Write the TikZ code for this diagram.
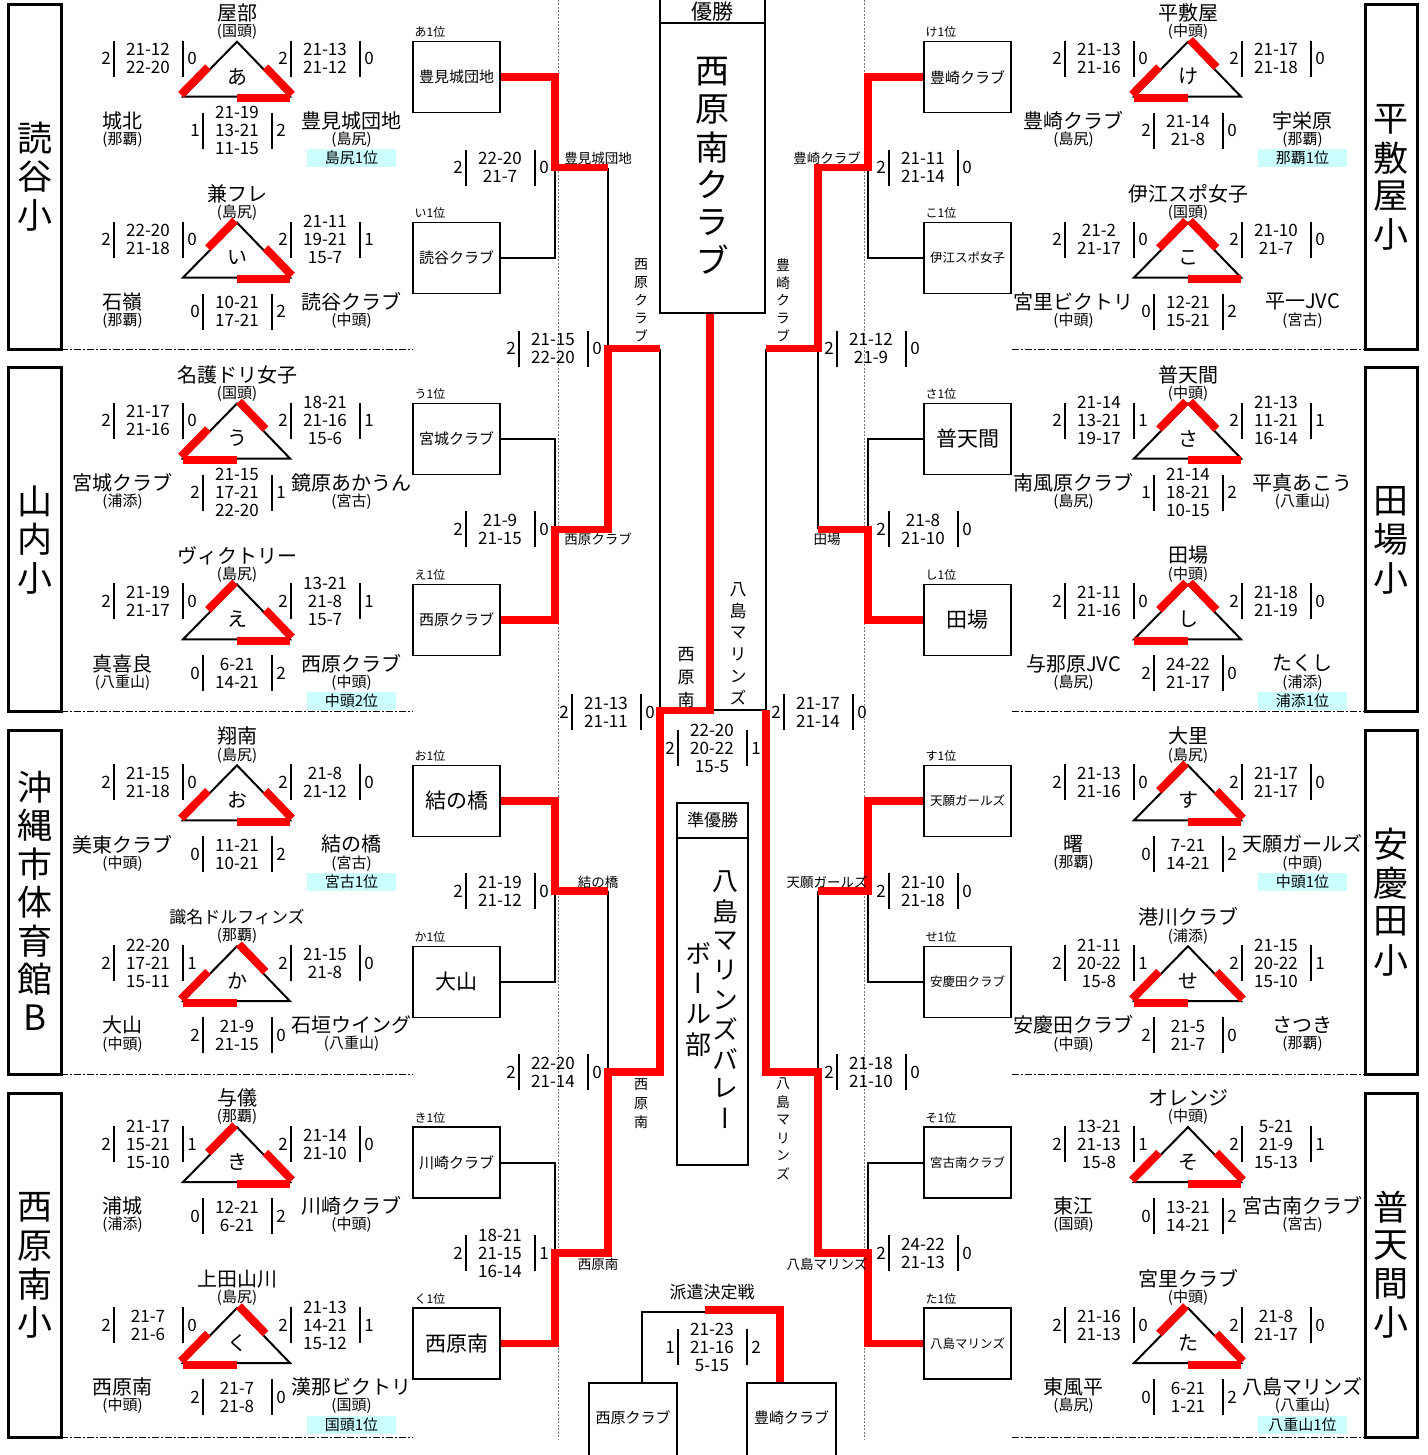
\documentclass[tikz,border=0pt]{standalone}
\usepackage{fontspec}
\setmainfont{Noto Sans CJK JP}
\newfontfamily\vjp[RawFeature=+vert]{Noto Sans CJK JP}
\usetikzlibrary{calc}
\definecolor{winred}{RGB}{255,0,0}
\definecolor{lblcyan}{RGB}{204,255,255}
\definecolor{guidegray}{RGB}{120,120,120}
\newcommand\fsz[1]{\fontsize{#1}{#1}\selectfont}
\tikzset{
  nm/.style={font=\fsz{20}, inner sep=0pt},
  ar/.style={font=\fsz{15}, inner sep=0pt},
  kana/.style={font=\fsz{20}, inner sep=0pt},
  scr/.style={font=\fontsize{17}{18}\selectfont, align=center, inner sep=0pt},
  num/.style={font=\fsz{17}, inner sep=0pt},
  sbar/.style={line width=1.2pt},
  tristy/.style={line width=2pt, line join=miter},
  redseg/.style={line width=8pt, draw=winred},
  redpath/.style={line width=7.5pt, draw=winred, line join=miter},
  losepath/.style={line width=2pt},
  bracketbox/.style={draw, line width=1.4pt, minimum width=87pt, minimum height=71pt, inner sep=0pt},
  sidebox/.style={line width=3pt},
  poslbl/.style={font=\fsz{12}, inner sep=0pt, anchor=base west},
  cyanlbl/.style={fill=lblcyan, minimum width=89pt, minimum height=18pt, inner sep=0pt, font=\fsz{15}},
  wlbl/.style={font=\fsz{13.5}, inner sep=0pt},
  divider/.style={line width=1pt, dash pattern=on 7pt off 2pt on 2pt off 2pt},
  guide/.style={line width=0.8pt, draw=guidegray, dash pattern=on 2pt off 1.5pt},
  framebox/.style={draw, line width=2pt, inner sep=0pt},
}
% score block: name, sx, sy, left number, right number, lines
\newcommand\sbk[6]{%
  \node[scr] (#1) at ({#2},{#3}) {#6};
  \node[num] (#1l) at ({#2-42},{#3}) {#4};
  \node[num] (#1r) at ({#2+44},{#3}) {#5};
  \draw[sbar] ({#2-34},{#3-18}) -- ({#2-34},{#3+18});
  \draw[sbar] ({#2+35},{#3-18}) -- ({#2+35},{#3+18});
}
% pool triangle: id, ax, ay, kana, top name, top area, left red (A/L), right red (A/R), base red (L/R)
\newcommand\pool[9]{%
  \coordinate (#1A) at ({#2},{#3});
  \coordinate (#1L) at ({#2-54},{#3+55});
  \coordinate (#1R) at ({#2+53},{#3+55});
  \coordinate (#1ml) at ({#2-27},{#3+27.5});
  \coordinate (#1mr) at ({#2+26.5},{#3+27.5});
  \coordinate (#1mb) at ({#2-0.5},{#3+55});
  \draw[tristy] (#1A) -- (#1L) -- (#1R) -- cycle;
  \draw[redseg] ($(#1#7)+(-2,-2)$) -- ($(#1ml)+(-2,-2)$);
  \draw[redseg] ($(#1#8)+(2,-2)$) -- ($(#1mr)+(2,-2)$);
  \draw[redseg] ($(#1#9)+(0,1.5)$) -- ($(#1mb)+(0,1.5)$);
  \node[kana] (#1k) at ({#2},{#3+35}) {#4};
  \node[nm] (#1t) at ({#2},{#3-29}) {#5};
  \node[ar] (#1ta) at ({#2},{#3-10}) {#6};
}
\newcommand\poolsc[9]{%
  \sbk{#1ul}{#2-89}{#3+17}{#4}{#6}{#5}
  \sbk{#1ur}{#2+88}{#3+17}{#7}{#9}{#8}
}
\newcommand\poolbt[6]{\sbk{#1bt}{#2}{#3+89}{#4}{#6}{#5}}
\newcommand\poolnm[7]{%
  \node[nm] (#1bl) at ({#2-114.5},{#3+79}) {#4};
  \node[ar] (#1bla) at ({#2-114.5},{#3+98}) {#5};
  \node[nm] (#1br) at ({#2+114.5},{#3+79}) {#6};
  \node[ar] (#1bra) at ({#2+114.5},{#3+98}) {#7};
}
\newcommand\poolcy[4]{\node[cyanlbl] (#1cy) at ({#2+114.5},{#3+116.5}) {#4};}
% bracket box: id, cx, ay, font size, label, text
\newcommand\bbox[6]{%
  \node[bracketbox, font=\fsz{#4}] (#1) at ({#2},{#3+35.5}) {#6};
  \node[poslbl] (#1p) at ({#2-42},{#3-5}) {#5};
}
% vertical stack of characters: id, x, y0, dy, font, list
\newcommand\vstack[6]{%
  \foreach \c [count=\i from 0] in {#6} {\node[font=#5, inner sep=0pt] (#1\i) at ({#2},{#3+\i*#4}) {\c};}
}
\begin{document}
\begin{tikzpicture}[x=1pt,y=-1pt]
\useasboundingbox (0,0) rectangle (1427,1455);
% guides
\draw[guide] (558,0) -- (558,1440);
\draw[guide] (864,0) -- (864,1440);
% side boxes and dividers
\foreach \k in {0,1,2,3} {
  \draw[sidebox] (8,{5+362.7*\k}) rectangle (61,{349+362.7*\k});
  \draw[sidebox] (1365,{5+362.7*\k}) rectangle (1417,{349+362.7*\k});
  \draw[divider] (61,{349+362.7*\k}) -- (413,{349+362.7*\k});
  \draw[divider] (1012,{349+362.7*\k}) -- (1365,{349+362.7*\k});
}
\vstack{sla}{34.5}{138.5}{38.5}{\fsz{35}}{読,谷,小}
\vstack{slb}{34.5}{501.2}{38.5}{\fsz{35}}{山,内,小}
\vstack{slc}{34.5}{786.9}{38.5}{\fsz{35}}{沖,縄,市,体,育,館,B}
\vstack{sld}{34.5}{1207.4}{38.5}{\fsz{35}}{西,原,南,小}
\vstack{sra}{1391}{119.3}{38.5}{\fsz{35}}{平,敷,屋,小}
\vstack{srb}{1391}{501.2}{38.5}{\fsz{35}}{田,場,小}
\vstack{src}{1391}{844.7}{38.5}{\fsz{35}}{安,慶,田,小}
\vstack{srd}{1391}{1207.4}{38.5}{\fsz{35}}{普,天,間,小}

% champion
\node[framebox, minimum width=105pt, minimum height=35pt] (champtop) at (712.5,5.5) {};
\node[font=\fsz{21}, inner sep=0pt] (champlbl) at (712.5,11.5) {優勝};
\node[framebox, minimum width=105pt, minimum height=290pt] (champ) at (712.5,168) {};
\vstack{cw}{712.5}{72}{37.6}{\vjp\fsz{34}}{西,原,南,ク,ラ,ブ}
% runner-up
\node[framebox, minimum width=71pt, minimum height=35pt] (rutop) at (712.5,820.5) {};
\node[font=\fsz{17}, inner sep=0pt] (rulbl) at (712.5,820.5) {準優勝};
\node[framebox, minimum width=71pt, minimum height=327pt] (ru) at (712.5,1001.5) {};
\vstack{rwa}{725}{882}{29.5}{\vjp\fsz{26}}{八,島,マ,リ,ン,ズ,バ,レ,ー}
\vstack{rwb}{698}{953}{30.5}{\vjp\fsz{26}}{ボ,ー,ル,部}

% bracket boxes
\bbox{ba}{456.5}{41.7}{15}{あ1位}{豊見城団地}
\bbox{bi}{456.5}{222.6}{15}{い1位}{読谷クラブ}
\bbox{bu}{456.5}{403.5}{15}{う1位}{宮城クラブ}
\bbox{be}{456.5}{584.4}{15}{え1位}{西原クラブ}
\bbox{bo}{456.5}{765.3}{21}{お1位}{結の橋}
\bbox{bka}{456.5}{946.2}{21}{か1位}{大山}
\bbox{bki}{456.5}{1127.1}{15}{き1位}{川崎クラブ}
\bbox{bku}{456.5}{1308}{21}{く1位}{西原南}
\bbox{bke}{967.5}{41.7}{15}{け1位}{豊崎クラブ}
\bbox{bko}{967.5}{222.6}{12.5}{こ1位}{伊江スポ女子}
\bbox{bsa}{967.5}{403.5}{21}{さ1位}{普天間}
\bbox{bshi}{967.5}{584.4}{21}{し1位}{田場}
\bbox{bsu}{967.5}{765.3}{12.5}{す1位}{天願ガールズ}
\bbox{bse}{967.5}{946.2}{12.5}{せ1位}{安慶田クラブ}
\bbox{bso}{967.5}{1127.1}{12.5}{そ1位}{宮古南クラブ}
\bbox{bta}{967.5}{1308}{12.5}{た1位}{八島マリンズ}

% junction coordinates
\coordinate (j1a) at (555,167.6); \coordinate (j1b) at (555,529.4);
\coordinate (j1c) at (555,891.2); \coordinate (j1d) at (555,1253);
\coordinate (k1a) at (608,167.6); \coordinate (k1b) at (608,529.4);
\coordinate (k1c) at (608,891.2); \coordinate (k1d) at (608,1253);
\coordinate (j2a) at (608,348.5); \coordinate (j2b) at (608,1072.1);
\coordinate (k2a) at (660,348.5); \coordinate (k2b) at (660,1072.1);
\coordinate (j3) at (660,710.3); \coordinate (k3) at (710,710.3);
\coordinate (rj1a) at (868,167.6); \coordinate (rj1b) at (868,529.4);
\coordinate (rj1c) at (868,891.2); \coordinate (rj1d) at (868,1253);
\coordinate (rk1a) at (818,167.6); \coordinate (rk1b) at (818,529.4);
\coordinate (rk1c) at (818,891.2); \coordinate (rk1d) at (818,1253);
\coordinate (rj2a) at (818,348.5); \coordinate (rj2b) at (818,1072.1);
\coordinate (rk2a) at (766,348.5); \coordinate (rk2b) at (766,1072.1);
\coordinate (rj3) at (766,710.3); \coordinate (rk3) at (714,710.3);

% losing lines
\draw[losepath] (bi.east) -| (j1a);
\draw[losepath] (bu.east) -| (j1b);
\draw[losepath] (bka.east) -| (j1c);
\draw[losepath] (bki.east) -| (j1d);
\draw[losepath] (k1a) -- (j2a);
\draw[losepath] (k1c) -- (j2b);
\draw[losepath] (k2a) -- (j3);
\draw[losepath] (bko.west) -| (rj1a);
\draw[losepath] (bsa.west) -| (rj1b);
\draw[losepath] (bse.west) -| (rj1c);
\draw[losepath] (bso.west) -| (rj1d);
\draw[losepath] (rk1b) -- (rj2a);
\draw[losepath] (rk1c) -- (rj2b);
\draw[losepath] (rk2a) -- (rj3);
\draw[losepath] (rj3) -- (rk3);
% winning lines
\draw[redpath] (ba.east) -| (j1a) -- (k1a);
\draw[redpath] (be.east) -| (j1b) -- (k1b) -- (j2a) -- (k2a);
\draw[redpath] (bo.east) -| (j1c) -- (k1c);
\draw[redpath] (bku.east) -| (j1d) -- (k1d) -- (j2b) -- (k2b) -- (j3) -- (k3) -- (k3 |- champ.south);
\draw[redpath] (bke.west) -| (rj1a) -- (rk1a) -- (rj2a) -- (rk2a);
\draw[redpath] (bshi.west) -| (rj1b) -- (rk1b);
\draw[redpath] (bsu.west) -| (rj1c) -- (rk1c);
\draw[redpath] (bta.west) -| (rj1d) -- (rk1d) -- (rj2b) -- (rk2b) -- (rj3);

% winner labels
\node[wlbl] (wa) at (598,158.6) {豊見城団地};
\node[wlbl] (wb) at (598,539.4) {西原クラブ};
\node[wlbl] (wc) at (598,882.2) {結の橋};
\node[wlbl] (wd) at (598,1264) {西原南};
\node[wlbl] (we) at (827,158.6) {豊崎クラブ};
\node[wlbl] (wf) at (827,539.4) {田場};
\node[wlbl] (wg) at (827,882.2) {天願ガールズ};
\node[wlbl] (wh) at (827,1264) {八島マリンズ};
\vstack{va}{641}{265}{17.7}{\vjp\fsz{14}}{西,原,ク,ラ,ブ}
\vstack{vb}{641}{1085}{18.5}{\vjp\fsz{14}}{西,原,南}
\vstack{vc}{783}{265}{17.7}{\vjp\fsz{14}}{豊,崎,ク,ラ,ブ}
\vstack{vd}{783}{1084}{18}{\vjp\fsz{14}}{八,島,マ,リ,ン,ズ}
\vstack{ve}{686}{655}{22.5}{\vjp\fsz{17}}{西,原,南}
\vstack{vf}{738}{590}{21.5}{\vjp\fsz{17}}{八,島,マ,リ,ン,ズ}

% bracket scores
\sbk{sa}{500}{167.6}{2}{0}{22-20\\21-7}
\sbk{sb}{500}{529.4}{2}{0}{21-9\\21-15}
\sbk{sc}{500}{891.2}{2}{0}{21-19\\21-12}
\sbk{sd}{500}{1253}{2}{1}{18-21\\21-15\\16-14}
\sbk{se}{553}{348.5}{2}{0}{21-15\\22-20}
\sbk{sf}{553}{1072.1}{2}{0}{22-20\\21-14}
\sbk{sg}{606}{712}{2}{0}{21-13\\21-11}
\sbk{ta}{923}{167.6}{2}{0}{21-11\\21-14}
\sbk{tb}{923}{529.4}{2}{0}{21-8\\21-10}
\sbk{tc}{923}{891.2}{2}{0}{21-10\\21-18}
\sbk{td}{923}{1253}{2}{0}{24-22\\21-13}
\sbk{te}{871}{348.5}{2}{0}{21-12\\21-9}
\sbk{tf}{871}{1072.1}{2}{0}{21-18\\21-10}
\sbk{tg}{818}{712}{2}{0}{21-17\\21-14}
\sbk{fin}{712}{748}{2}{1}{22-20\\20-22\\15-5}

% haken bracket
\node[font=\fsz{17}, inner sep=0pt] (hktitle) at (712,1292) {派遣決定戦};
\node[framebox, minimum width=88pt, minimum height=87pt] (hka) at (633,1426.5) {};
\node[font=\fsz{15}, inner sep=0pt] (hkat) at (633,1418) {西原クラブ};
\node[framebox, minimum width=89pt, minimum height=87pt] (hkb) at (791.5,1426.5) {};
\node[font=\fsz{15}, inner sep=0pt] (hkbt) at (791.5,1418) {豊崎クラブ};
\coordinate (hkl) at (642,1311.5);
\coordinate (hkm) at (705,1311.5);
\coordinate (hkr) at (780,1310);
\draw[losepath] (hkl |- hka.north) -- (hkl) -- (hkm);
\draw[redpath] (705,1310) -- (hkr) -- (hkr |- hkb.north);
\sbk{hks}{712}{1347}{1}{2}{21-23\\21-16\\5-15}

% pools left
\pool{pa}{237}{41.7}{あ}{屋部}{(国頭)}{L}{R}{R}
\poolsc{pa}{237}{41.7}{2}{21-12\\22-20}{0}{2}{21-13\\21-12}{0}
\poolbt{pa}{237}{41.7}{1}{21-19\\13-21\\11-15}{2}
\poolnm{pa}{237}{41.7}{城北}{(那覇)}{豊見城団地}{(島尻)}
\poolcy{pa}{237}{41.7}{島尻1位}

\pool{pi}{237}{222.6}{い}{兼フレ}{(島尻)}{A}{R}{R}
\poolsc{pi}{237}{222.6}{2}{22-20\\21-18}{0}{2}{21-11\\19-21\\15-7}{1}
\poolbt{pi}{237}{222.6}{0}{10-21\\17-21}{2}
\poolnm{pi}{237}{222.6}{石嶺}{(那覇)}{読谷クラブ}{(中頭)}

\pool{pu}{237}{403.5}{う}{名護ドリ女子}{(国頭)}{L}{A}{L}
\poolsc{pu}{237}{403.5}{2}{21-17\\21-16}{0}{2}{18-21\\21-16\\15-6}{1}
\poolbt{pu}{237}{403.5}{2}{21-15\\17-21\\22-20}{1}
\poolnm{pu}{237}{403.5}{宮城クラブ}{(浦添)}{鏡原あかうん}{(宮古)}

\pool{pe}{237}{584.4}{え}{ヴィクトリー}{(島尻)}{A}{R}{R}
\poolsc{pe}{237}{584.4}{2}{21-19\\21-17}{0}{2}{13-21\\21-8\\15-7}{1}
\poolbt{pe}{237}{584.4}{0}{6-21\\14-21}{2}
\poolnm{pe}{237}{584.4}{真喜良}{(八重山)}{西原クラブ}{(中頭)}
\poolcy{pe}{237}{584.4}{中頭2位}

\pool{po}{237}{765.3}{お}{翔南}{(島尻)}{L}{R}{R}
\poolsc{po}{237}{765.3}{2}{21-15\\21-18}{0}{2}{21-8\\21-12}{0}
\poolbt{po}{237}{765.3}{0}{11-21\\10-21}{2}
\poolnm{po}{237}{765.3}{美東クラブ}{(中頭)}{結の橋}{(宮古)}
\poolcy{po}{237}{765.3}{宮古1位}

\pool{pka}{237}{946.2}{か}{{\fsz{17}識名ドルフィンズ}}{(那覇)}{L}{A}{L}
\poolsc{pka}{237}{946.2}{2}{22-20\\17-21\\15-11}{1}{2}{21-15\\21-8}{0}
\poolbt{pka}{237}{946.2}{2}{21-9\\21-15}{0}
\poolnm{pka}{237}{946.2}{大山}{(中頭)}{石垣ウイング}{(八重山)}

\pool{pki}{237}{1127.1}{き}{与儀}{(那覇)}{A}{R}{R}
\poolsc{pki}{237}{1127.1}{2}{21-17\\15-21\\15-10}{1}{2}{21-14\\21-10}{0}
\poolbt{pki}{237}{1127.1}{0}{12-21\\6-21}{2}
\poolnm{pki}{237}{1127.1}{浦城}{(浦添)}{川崎クラブ}{(中頭)}

\pool{pku}{237}{1308}{く}{上田山川}{(島尻)}{L}{A}{L}
\poolsc{pku}{237}{1308}{2}{21-7\\21-6}{0}{2}{21-13\\14-21\\15-12}{1}
\poolbt{pku}{237}{1308}{2}{21-7\\21-8}{0}
\poolnm{pku}{237}{1308}{西原南}{(中頭)}{漢那ビクトリ}{(国頭)}
\poolcy{pku}{237}{1308}{国頭1位}

% pools right
\pool{qke}{1188}{41.7}{け}{平敷屋}{(中頭)}{L}{A}{L}
\poolsc{qke}{1188}{41.7}{2}{21-13\\21-16}{0}{2}{21-17\\21-18}{0}
\poolbt{qke}{1188}{41.7}{2}{21-14\\21-8}{0}
\poolnm{qke}{1188}{41.7}{豊崎クラブ}{(島尻)}{宇栄原}{(那覇)}
\poolcy{qke}{1188}{41.7}{那覇1位}

\pool{qko}{1188}{222.6}{こ}{伊江スポ女子}{(国頭)}{A}{A}{R}
\poolsc{qko}{1188}{222.6}{2}{21-2\\21-17}{0}{2}{21-10\\21-7}{0}
\poolbt{qko}{1188}{222.6}{0}{12-21\\15-21}{2}
\poolnm{qko}{1188}{222.6}{宮里ビクトリ}{(中頭)}{平一JVC}{(宮古)}

\pool{qsa}{1188}{403.5}{さ}{普天間}{(中頭)}{A}{A}{R}
\poolsc{qsa}{1188}{403.5}{2}{21-14\\13-21\\19-17}{1}{2}{21-13\\11-21\\16-14}{1}
\poolbt{qsa}{1188}{403.5}{1}{21-14\\18-21\\10-15}{2}
\poolnm{qsa}{1188}{403.5}{南風原クラブ}{(島尻)}{平真あこう}{(八重山)}

\pool{qshi}{1188}{584.4}{し}{田場}{(中頭)}{A}{A}{L}
\poolsc{qshi}{1188}{584.4}{2}{21-11\\21-16}{0}{2}{21-18\\21-19}{0}
\poolbt{qshi}{1188}{584.4}{2}{24-22\\21-17}{0}
\poolnm{qshi}{1188}{584.4}{与那原JVC}{(島尻)}{たくし}{(浦添)}
\poolcy{qshi}{1188}{584.4}{浦添1位}

\pool{qsu}{1188}{765.3}{す}{大里}{(島尻)}{A}{R}{R}
\poolsc{qsu}{1188}{765.3}{2}{21-13\\21-16}{0}{2}{21-17\\21-17}{0}
\poolbt{qsu}{1188}{765.3}{0}{7-21\\14-21}{2}
\poolnm{qsu}{1188}{765.3}{曙}{(那覇)}{天願ガールズ}{(中頭)}
\poolcy{qsu}{1188}{765.3}{中頭1位}

\pool{qse}{1188}{946.2}{せ}{港川クラブ}{(浦添)}{L}{R}{L}
\poolsc{qse}{1188}{946.2}{2}{21-11\\20-22\\15-8}{1}{2}{21-15\\20-22\\15-10}{1}
\poolbt{qse}{1188}{946.2}{2}{21-5\\21-7}{0}
\poolnm{qse}{1188}{946.2}{安慶田クラブ}{(中頭)}{さつき}{(那覇)}

\pool{qso}{1188}{1127.1}{そ}{オレンジ}{(中頭)}{L}{R}{R}
\poolsc{qso}{1188}{1127.1}{2}{13-21\\21-13\\15-8}{1}{2}{5-21\\21-9\\15-13}{1}
\poolbt{qso}{1188}{1127.1}{0}{13-21\\14-21}{2}
\poolnm{qso}{1188}{1127.1}{東江}{(国頭)}{宮古南クラブ}{(宮古)}

\pool{qta}{1188}{1308}{た}{宮里クラブ}{(中頭)}{A}{R}{R}
\poolsc{qta}{1188}{1308}{2}{21-16\\21-13}{0}{2}{21-8\\21-17}{0}
\poolbt{qta}{1188}{1308}{0}{6-21\\1-21}{2}
\poolnm{qta}{1188}{1308}{東風平}{(島尻)}{八島マリンズ}{(八重山)}
\poolcy{qta}{1188}{1308}{八重山1位}
\end{tikzpicture}
\end{document}
